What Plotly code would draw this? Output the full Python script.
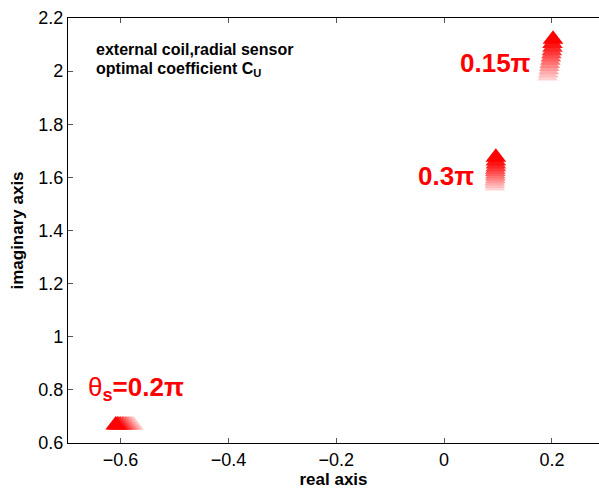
import plotly.graph_objects as go

# --- data ---
# cluster labelled 0.15*pi (drawn light -> dark, bottom -> top)
c015_x = [0.192, 0.193, 0.194, 0.195, 0.196, 0.197, 0.198, 0.199, 0.200, 0.201, 0.201, 0.202]
c015_y = [1.982, 1.993, 2.005, 2.017, 2.029, 2.041, 2.053, 2.065, 2.077, 2.090, 2.104, 2.120]
# cluster labelled 0.3*pi
c03_x = [0.094, 0.094, 0.094, 0.095, 0.095, 0.095, 0.095, 0.095, 0.096, 0.096, 0.096, 0.096]
c03_y = [1.568, 1.577, 1.586, 1.595, 1.604, 1.613, 1.622, 1.631, 1.640, 1.650, 1.662, 1.676]
# cluster labelled theta_s = 0.2*pi (light at right -> dark at left)
c02_x = [-0.576, -0.579, -0.582, -0.585, -0.588, -0.591, -0.594, -0.597, -0.600, -0.603, -0.606, -0.609]
c02_y = [0.668, 0.668, 0.668, 0.668, 0.668, 0.668, 0.668, 0.668, 0.668, 0.668, 0.668, 0.668]

x_ticks = [-0.6, -0.4, -0.2, 0, 0.2]
y_ticks = [0.6, 0.8, 1.0, 1.2, 1.4, 1.6, 1.8, 2.0, 2.2]


def shades(n):
    out = []
    for i in range(n):
        c = int(round(255 * 0.82 * (1 - i / (n - 1))))
        out.append(f"rgb(255,{c},{c})")
    return out


fig = go.Figure()
for xs, ys in [(c015_x, c015_y), (c03_x, c03_y), (c02_x, c02_y)]:
    fig.add_trace(go.Scatter(
        x=xs, y=ys, mode="markers",
        marker=dict(symbol="triangle-up", size=18, color=shades(len(xs)),
                    line=dict(width=0)),
        showlegend=False, hoverinfo="skip"))

FONT = "Liberation Sans, Arial, Helvetica, sans-serif"
red = "rgb(255,0,0)"

annots = [
    dict(x=0.165, y=2.03, text="<b>0.15π</b>", xanchor="right", yanchor="middle",
         font=dict(size=26, color=red)),
    dict(x=0.059, y=1.604, text="<b>0.3π</b>", xanchor="right", yanchor="middle",
         font=dict(size=26, color=red)),
    dict(x=-0.665, y=0.805, text="θ<b><sub>s</sub>=0.2π</b>", xanchor="left", yanchor="middle",
         font=dict(size=26, color=red)),
    dict(x=-0.649, y=2.080, text="<b>external coil,radial sensor</b>", xanchor="left",
         yanchor="middle", font=dict(size=16, color="black")),
    dict(x=-0.649, y=2.006, text="<b>optimal coefficient C<sub>U</sub></b>", xanchor="left",
         yanchor="middle", font=dict(size=16, color="black")),
]
for a in annots:
    a.update(xref="x", yref="y", showarrow=False)

fig.update_layout(
    width=599, height=489,
    margin=dict(l=68, r=0, t=18, b=46),
    paper_bgcolor="white", plot_bgcolor="white",
    font=dict(family=FONT, color="black"),
    annotations=annots,
    xaxis=dict(range=[-0.6975, 0.2873], tickvals=x_ticks, ticks="inside", ticklen=5,
               tickcolor="#555", showline=True, linecolor="black", linewidth=1.3,
               mirror="ticks", showgrid=False, zeroline=False,
               tickfont=dict(size=18),
               title=dict(text="<b>real axis</b>", font=dict(size=17), standoff=4)),
    yaxis=dict(range=[0.6, 2.2], tickvals=y_ticks, ticks="inside", ticklen=5,
               tickcolor="#555", showline=True, linecolor="black", linewidth=1.3,
               mirror=False, showgrid=False, zeroline=False,
               tickfont=dict(size=18),
               title=dict(text="<b>imaginary axis</b>", font=dict(size=17), standoff=10)),
)

fig.write_html("out.html", config={"displayModeBar": False},
               post_script="document.body.style.margin='0';")
